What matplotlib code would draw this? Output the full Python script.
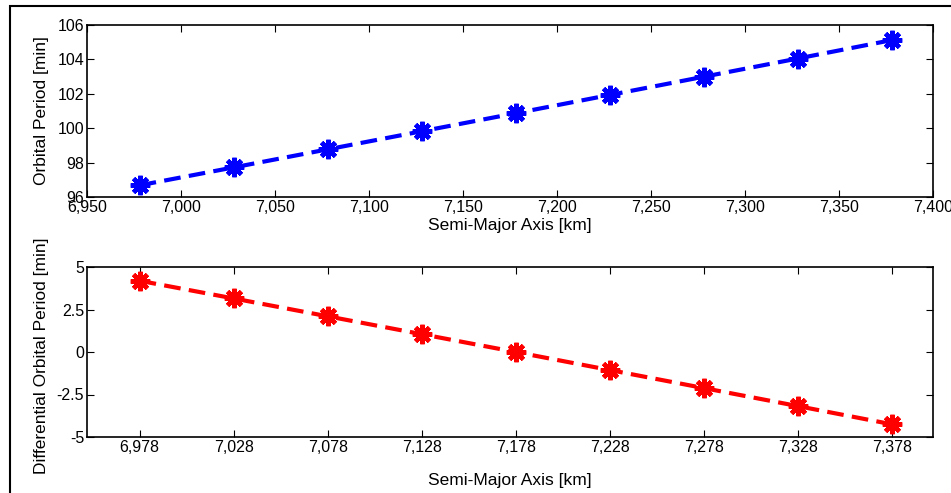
import matplotlib.pyplot as plt
import matplotlib.ticker as mticker
from matplotlib.patches import Rectangle

plt.rcParams['font.family'] = ['Liberation Sans', 'DejaVu Sans']

# semi-major axis [km] and orbital period [min]
sma = [6978, 7028, 7078, 7128, 7178, 7228, 7278, 7328, 7378]
period = [96.68, 97.72, 98.77, 99.82, 100.87, 101.93, 102.99, 104.05, 105.12]
dperiod = [4.19, 3.15, 2.10, 1.05, 0.0, -1.06, -2.12, -3.18, -4.25]

fig = plt.figure(figsize=(9.51, 4.93), dpi=100)
W, H = 951, 493

# outer frame
fig.patches.append(Rectangle((10 / W, -0.1), 1.2, (H - 6) / H + 0.1,
                             transform=fig.transFigure, fill=False,
                             edgecolor='black', linewidth=1.5))

ax1 = fig.add_axes([87 / W, 1 - 197 / H, 846 / W, 172 / H])
ax2 = fig.add_axes([87 / W, 1 - 437 / H, 846 / W, 170 / H])

mk = dict(marker=(8, 2, 0), markersize=14, markeredgewidth=3.2,
          linewidth=3, dashes=(4, 2))

ax1.plot(sma, period, color='blue', markeredgecolor='blue', **mk)
ax1.set_xlim(6950, 7400)
ax1.set_ylim(96, 106)
ax1.set_xticks(range(6950, 7401, 50))
ax1.set_yticks(range(96, 107, 2))
ax1.xaxis.set_major_formatter(mticker.StrMethodFormatter('{x:,.0f}'))
ax1.set_xlabel('Semi-Major Axis [km]', fontsize=12.5)
ax1.set_ylabel('Orbital Period [min]', fontsize=12.5)
ax1.xaxis.set_label_coords(0.5, -0.122)
ax1.yaxis.set_label_coords(-0.045, 0.5)

ax2.plot(sma, dperiod, color='red', markeredgecolor='red', **mk)
ax2.set_xlim(6950, 7400)
ax2.set_ylim(-5, 5)
ax2.set_xticks(sma)
ax2.set_yticks([-5, -2.5, 0, 2.5, 5])
ax2.set_yticklabels(['-5', '-2.5', '0', '2.5', '5'])
ax2.xaxis.set_major_formatter(mticker.StrMethodFormatter('{x:,.0f}'))
ax2.set_xlabel('Semi-Major Axis [km]', fontsize=12.5)
ax2.set_ylabel('Differential Orbital Period [min]', fontsize=12.5)
ax2.xaxis.set_label_coords(0.5, -0.21)
ax2.yaxis.set_label_coords(-0.045, 0.48)

for ax in (ax1, ax2):
    ax.tick_params(direction='in', top=True, right=True, length=5,
                   labelsize=11.5, pad=2)
    for s in ax.spines.values():
        s.set_linewidth(1.2)

fig.savefig('out.png', dpi=100)
